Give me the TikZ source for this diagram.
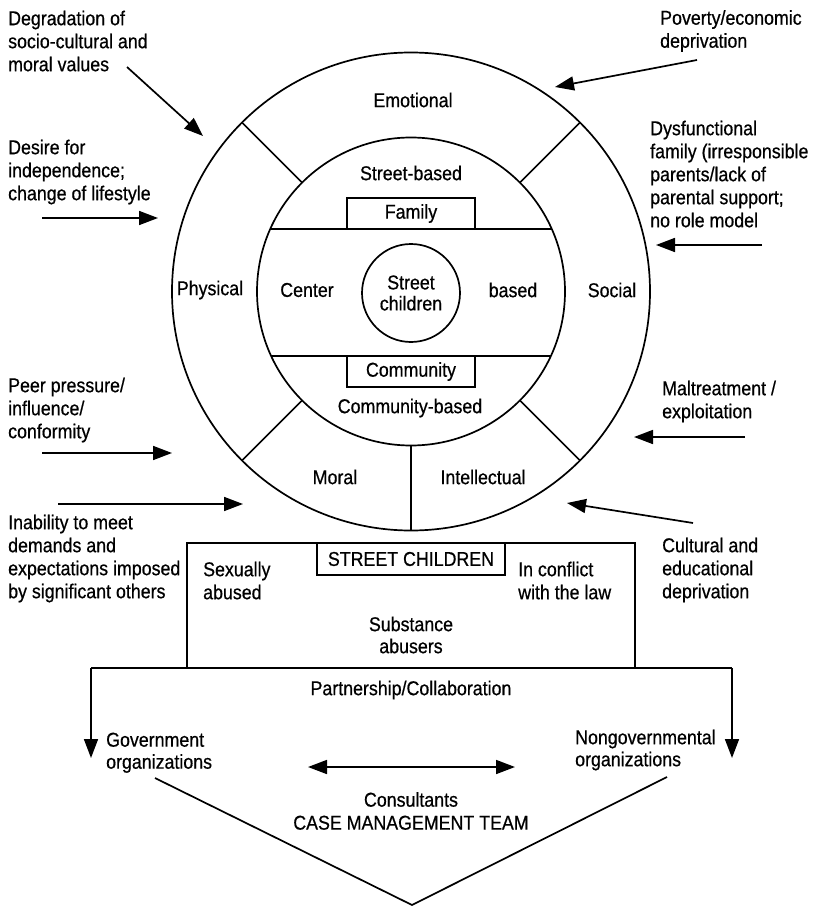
\documentclass[tikz,border=0pt]{standalone}
\usepackage{fontspec}
\setmainfont[FakeStretch=0.89,FakeBold=0.6]{Liberation Sans}
\usetikzlibrary{arrows.meta}
\begin{document}
\begin{tikzpicture}[x=1pt,y=-1pt,
  lw/.style={line width=1.7pt},
  lbl/.style={inner sep=0pt, font=\fontsize{20}{23}\selectfont},
  blk/.style={lbl, align=left, anchor=north west},
  tip/.tip={Triangle[length=19pt,width=14pt]},
  arr/.style={lw, -tip},
  boxed/.style={draw, lw, inner sep=0pt, font=\fontsize{20}{23}\selectfont}]
\useasboundingbox (0,0) rectangle (812,907);

% circles
\node[circle, draw, lw, minimum size=478pt, inner sep=0pt] (outer) at (411,291.5) {};
\node[circle, draw, lw, minimum size=308pt, inner sep=0pt] (inner) at (411,291.5) {};
\node[circle, draw, lw, minimum size=98pt, inner sep=0pt, align=center,
      font=\fontsize{20}{21}\selectfont] (core) at (411,293) {Street\\children};

% chords
\draw[lw] (inner.center) ++(-140.5,-62.5) -- ++(281,0);
\draw[lw] (inner.center) ++(-140.1,64.5) -- ++(280.2,0);

% spokes
\draw[lw] (inner.center) ++(-108.9,-108.9) -- ++(-60.1,-60.1);
\draw[lw] (inner.center) ++(108.9,-108.9) -- ++(60.1,-60.1);
\draw[lw] (inner.center) ++(-108.9,108.9) -- ++(-60.1,60.1);
\draw[lw] (inner.center) ++(108.9,108.9) -- ++(60.1,60.1);
\draw[lw] (inner.south) -- (outer.south);

% boxes in circle
\node[boxed, minimum width=128pt, minimum height=31pt] (family) at (411,213.5) {Family};
\node[boxed, minimum width=128pt, minimum height=31pt] (community) at (411,371.5) {Community};

% circle labels
\node[lbl] (emotional) at (413,100) {Emotional};
\node[lbl] (streetbased) at (411,173) {Street-based};
\node[lbl] (physical) at (210,290) {Physical};
\node[lbl] (center) at (307,290) {Center};
\node[lbl] (based) at (513,290) {based};
\node[lbl] (social) at (612,290) {Social};
\node[lbl] (communitybased) at (410,408) {Community-based};
\node[lbl] (moral) at (335,477) {Moral};
\node[lbl] (intellectual) at (483,477) {Intellectual};

% left factor texts
\node[blk] (degr) at (8,10.5) {Degradation of\\socio-cultural and\\moral values};
\node[blk] (desire) at (8,139.5) {Desire for\\independence;\\change of lifestyle};
\node[blk] (peer) at (8,377.5) {Peer pressure/\\influence/\\conformity};
\node[blk] (inab) at (8,514.5) {Inability to meet\\demands and\\expectations imposed\\by significant others};

% right factor texts
\node[blk] (pov) at (660,10) {Poverty/economic\\deprivation};
\node[blk] (dysf) at (650,120.5) {Dysfunctional\\family (irresponsible\\parents/lack of\\parental support;\\no role model};
\node[blk] (malt) at (662,380.5) {Maltreatment /\\exploitation};
\node[blk] (cult) at (662,537.5) {Cultural and\\educational\\deprivation};

% arrow endpoints
\coordinate (a1s) at (127,67);  \coordinate (a1e) at (203,136);
\coordinate (a2s) at (42,218);  \coordinate (a2e) at (158,218);
\coordinate (a3s) at (42,453);  \coordinate (a3e) at (172,453);
\coordinate (a4s) at (58,504);  \coordinate (a4e) at (243,504);
\coordinate (a5s) at (697,60);  \coordinate (a5e) at (555,87);
\coordinate (a6s) at (762,245); \coordinate (a6e) at (656,245);
\coordinate (a7s) at (745,437); \coordinate (a7e) at (634,437);
\coordinate (a8s) at (693,523); \coordinate (a8e) at (567,503);
\foreach \i in {1,...,8} { \draw[arr] (a\i s) -- (a\i e); }

% street children box
\coordinate (bl) at (187,668); \coordinate (tl) at (187,543);
\coordinate (tr) at (635,543); \coordinate (br) at (635,668);
\draw[lw] (bl) -- (tl) -- (tr) -- (br);
\node[boxed, minimum width=188pt, minimum height=32pt] (sc) at (411,559) {STREET CHILDREN};
\node[blk] (sex) at (203,561.5) {Sexually\\abused};
\node[blk] (conf) at (518,561.5) {In conflict\\with the law};
\node[lbl, align=center, font=\fontsize{20}{22}\selectfont] (subst) at (411,635) {Substance\\abusers};

% partnership
\coordinate (pl) at (91,668); \coordinate (pr) at (732,668);
\coordinate (pld) at (91,758); \coordinate (prd) at (732,758);
\draw[lw] (pl) -- (pr);
\draw[arr] (pl) -- (pld);
\draw[arr] (pr) -- (prd);
\node[lbl] (partner) at (411,690) {Partnership/Collaboration};

\node[blk, font=\fontsize{20}{22}\selectfont] (gov) at (106,732.5) {Government\\organizations};
\node[blk, font=\fontsize{20}{22}\selectfont] (ngo) at (575,729.5) {Nongovernmental\\organizations};
\coordinate (dl) at (308,767); \coordinate (dr) at (515,767);
\draw[lw, tip-tip] (dl) -- (dr);
\node[lbl, align=center] (cmt) at (411,811) {Consultants\\CASE MANAGEMENT TEAM};

\coordinate (vl) at (155,778); \coordinate (vb) at (412,905); \coordinate (vr) at (667,777);
\draw[lw] (vl) -- (vb) -- (vr);
\end{tikzpicture}
\end{document}
